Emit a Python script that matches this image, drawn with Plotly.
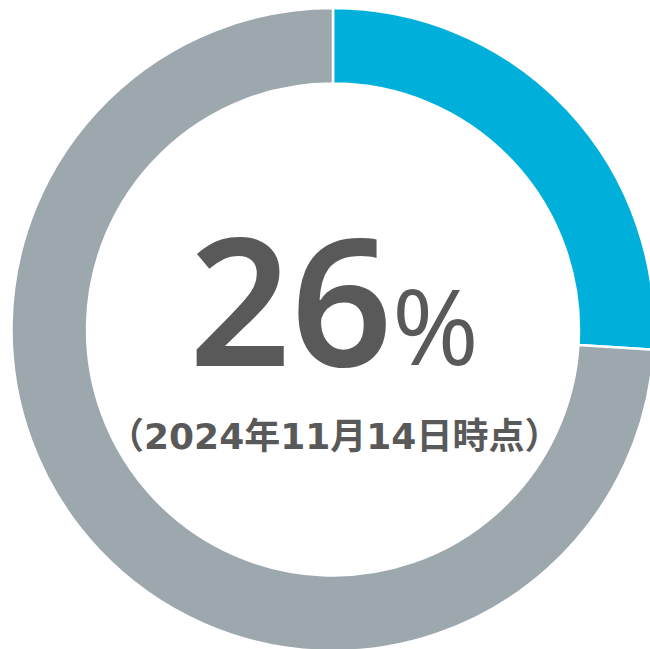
import plotly.graph_objects as go

# Share of the total reached, and the remainder
labels = ["達成", "未達成"]
values = [26, 74]
colors = ["#00B0DA", "#9DA7AE"]

big_number = "26"
unit = "%"
as_of = "（2024年11月14日時点）"

W, H = 655, 651
# ring geometry in pixels (centre and outer radius)
cx, cy, r = 333, 329.5, 321.5

fig = go.Figure(
    go.Pie(
        labels=labels,
        values=values,
        hole=0.765,
        sort=False,
        direction="clockwise",
        rotation=0,
        marker=dict(colors=colors, line=dict(color="white", width=2.5)),
        textinfo="none",
        hoverinfo="skip",
        showlegend=False,
        domain=dict(
            x=[(cx - r) / W, (cx + r) / W],
            y=[1 - (cy + r) / H, 1 - (cy - r) / H],
        ),
    )
)


def px(x):
    return x / W


def py(y):
    return 1 - y / H


TEXT = "#595959"

fig.add_annotation(
    x=px(290.5), y=py(297), xref="paper", yref="paper",
    text=big_number, showarrow=False,
    xanchor="center", yanchor="middle",
    font=dict(family="Noto Sans", size=178, weight=600, color=TEXT),
)
fig.add_annotation(
    x=px(435), y=py(324), xref="paper", yref="paper",
    text=unit, showarrow=False,
    xanchor="center", yanchor="middle",
    font=dict(family="Open Sans", size=105, weight=400, color=TEXT),
)
fig.add_annotation(
    x=px(333.5), y=py(436), xref="paper", yref="paper",
    text=as_of, showarrow=False,
    xanchor="center", yanchor="middle",
    font=dict(family="DejaVu Sans, Noto Sans CJK JP", size=36, weight=700, color=TEXT),
)

fig.update_layout(
    width=W, height=H,
    margin=dict(l=0, r=0, t=0, b=0),
    paper_bgcolor="white",
    plot_bgcolor="white",
)

fig.write_html(
    "out.html",
    config={"displayModeBar": False},
    post_script=(
        "document.documentElement.style.overflow='hidden';"
        "document.body.style.overflow='hidden';"
        "document.body.style.margin='0';"
    ),
)
